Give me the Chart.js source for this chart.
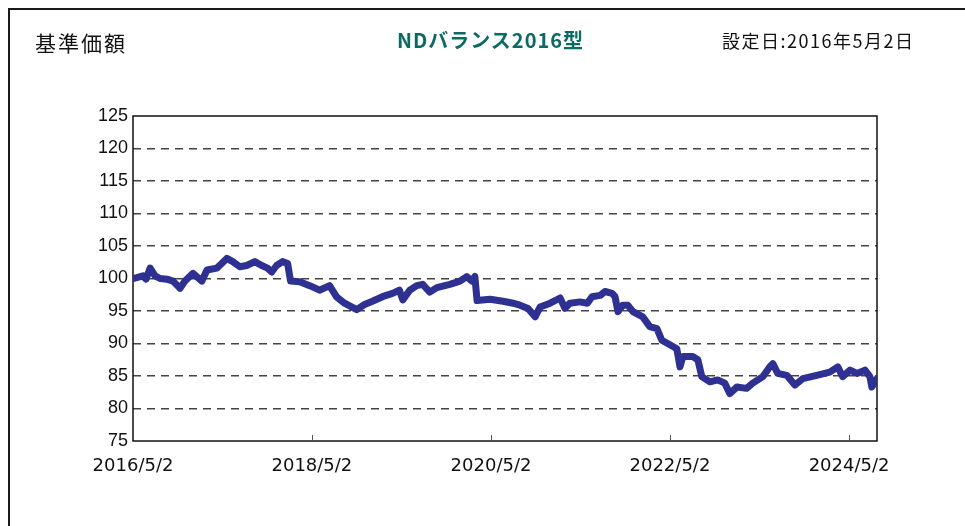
<!DOCTYPE html>
<html lang="ja">
<head>
<meta charset="utf-8">
<title>基準価額</title>
<script src="https://cdn.jsdelivr.net/npm/chart.js@4/dist/chart.umd.min.js"></script>
<style>
  html, body { margin: 0; padding: 0; background: #fff; }
  #wrap { position: relative; width: 965px; height: 526px; overflow: hidden; }
  #frame {
    position: absolute; left: 8px; top: 8px; right: -4px; bottom: -4px;
    border-left: 2px solid #1a1a1a; border-top: 2px solid #1a1a1a;
  }
  .hdr { position: absolute; white-space: nowrap; font-family: "Noto Sans CJK JP", sans-serif; color: #111; }
  #lbl { left: 35px; top: 27px; font-size: 21px; letter-spacing: 2px; }
  #ttl { left: 397px; top: 25px; font-size: 20px; font-weight: bold; color: #0b6b63; letter-spacing: 1px; }
  #set { left: 722px; top: 27px; font-size: 18px; letter-spacing: 1.5px; }
  canvas { position: absolute; left: 0; top: 0; }
</style>
</head>
<body>
<div id="wrap">
  <div id="frame"></div>
  <canvas id="chartNav" width="965" height="526"></canvas>
  <div class="hdr" id="lbl">基準価額</div>
  <div class="hdr" id="ttl">NDバランス2016型</div>
  <div class="hdr" id="set">設定日:2016年5月2日</div>
</div>
<script>
// 日付（基準日）
const datas = [
  '2016/5/2', '2016/5/25', '2016/6/12', '2016/6/24', '2016/7/11', '2016/7/31', '2016/8/20', '2016/9/18',
  '2016/10/12', '2016/11/10', '2016/11/30', '2017/1/2', '2017/2/7', '2017/2/28', '2017/4/9', '2017/4/29',
  '2017/5/20', '2017/6/13', '2017/7/12', '2017/8/9', '2017/9/11', '2017/10/9', '2017/11/2', '2017/11/19',
  '2017/12/9', '2018/1/2', '2018/1/23', '2018/2/4', '2018/3/13', '2018/4/23', '2018/6/2', '2018/7/13',
  '2018/8/10', '2018/9/12', '2018/11/1', '2018/12/3', '2019/1/4', '2019/2/14', '2019/3/27', '2019/4/24',
  '2019/5/8', '2019/6/5', '2019/7/4', '2019/7/28', '2019/8/26', '2019/9/24', '2019/11/16', '2019/12/27',
  '2020/1/24', '2020/2/14', '2020/2/26', '2020/3/6', '2020/4/28', '2020/6/20', '2020/7/31', '2020/8/28',
  '2020/9/30', '2020/10/29', '2020/11/18', '2020/12/29', '2021/2/8', '2021/2/28', '2021/3/20', '2021/4/30',
  '2021/5/30', '2021/6/18', '2021/7/21', '2021/8/10', '2021/9/8', '2021/9/20', '2021/10/2', '2021/10/22',
  '2021/11/11', '2021/12/2', '2022/1/11', '2022/2/9', '2022/3/10', '2022/3/30', '2022/5/2', '2022/5/30',
  '2022/6/12', '2022/6/24', '2022/8/3', '2022/8/24', '2022/9/9', '2022/10/12', '2022/11/13', '2022/12/12',
  '2023/1/1', '2023/1/30', '2023/3/11', '2023/4/5', '2023/5/16', '2023/6/13', '2023/6/26', '2023/7/16',
  '2023/8/22', '2023/9/24', '2023/10/26', '2023/12/22', '2024/2/13', '2024/3/17', '2024/4/6', '2024/5/6',
  '2024/6/3', '2024/7/6', '2024/7/26', '2024/8/3', '2024/8/24'
];

// 基準価額（設定時=100）
const valores = [
  100.0, 100.2, 100.4, 99.9, 101.6, 100.4, 100.0, 99.9,
  99.6, 98.5, 99.6, 100.8, 99.6, 101.3, 101.6, 102.3,
  103.1, 102.6, 101.8, 102.0, 102.6, 102.0, 101.6, 101.0,
  102.0, 102.6, 102.3, 99.6, 99.5, 98.9, 98.2, 98.9,
  97.2, 96.2, 95.2, 96.0, 96.5, 97.2, 97.7, 98.2,
  96.7, 98.2, 98.9, 99.1, 97.9, 98.6, 99.1, 99.6,
  100.3, 99.6, 100.3, 96.6, 96.8, 96.5, 96.2, 95.9,
  95.4, 94.1, 95.6, 96.2, 97.0, 95.4, 96.2, 96.4,
  96.2, 97.2, 97.4, 98.0, 97.7, 97.2, 94.9, 95.9,
  95.9, 94.9, 94.1, 92.6, 92.3, 90.5, 89.8, 89.2,
  86.4, 88.0, 88.0, 87.5, 84.9, 84.1, 84.4, 83.9,
  82.3, 83.3, 83.1, 83.9, 84.9, 86.4, 86.9, 85.4,
  85.1, 83.6, 84.6, 85.1, 85.6, 86.4, 84.9, 85.9,
  85.4, 85.9, 84.9, 83.3, 84.6
];

// 目盛り
const xTicks = ['2016/5/2', '2018/5/2', '2020/5/2', '2022/5/2', '2024/5/2'];
const yTicks = [75, 80, 85, 90, 95, 100, 105, 110, 115, 120, 125];

const inicio = Date.UTC(2016, 4, 2);
function dia(s) {
  const p = s.split('/').map(Number);
  return (Date.UTC(p[0], p[1] - 1, p[2]) - inicio) / 86400000;
}

const pontos = datas.map((d, i) => ({ x: dia(d), y: valores[i] }));
const xTickDias = xTicks.map(dia);

// 枠線と内向きの目盛り線
const molduraPlugin = {
  id: 'moldura',
  beforeDatasetsDraw(chart) {
    const { ctx, chartArea: a, scales } = chart;
    ctx.save();
    ctx.strokeStyle = '#111';
    ctx.lineWidth = 1.5;
    ctx.setLineDash([]);
    ctx.strokeRect(a.left, a.top, a.right - a.left, a.bottom - a.top);
    ctx.lineWidth = 1;
    ctx.strokeStyle = '#555';
    xTickDias.slice(1).forEach(v => {
      const x = Math.round(scales.x.getPixelForValue(v)) + 0.5;
      ctx.beginPath();
      ctx.moveTo(x, a.bottom);
      ctx.lineTo(x, a.bottom - 6);
      ctx.stroke();
    });
    ctx.restore();
  }
};

new Chart(document.getElementById('chartNav'), {
  type: 'line',
  data: {
    datasets: [{
      data: pontos,
      borderColor: '#2e3192',
      borderWidth: 7,
      pointRadius: 0,
      tension: 0,
      borderJoinStyle: 'round',
      borderCapStyle: 'round'
    }]
  },
  options: {
    responsive: false,
    animation: false,
    layout: { padding: { left: 0, right: 88, top: 116, bottom: 0 } },
    plugins: { legend: { display: false }, tooltip: { enabled: false } },
    scales: {
      x: {
        type: 'linear',
        min: 0,
        max: pontos[pontos.length - 1].x,
        afterBuildTicks: axis => { axis.ticks = xTickDias.map(v => ({ value: v })); },
        afterFit: scale => { scale.height = 85; },
        grid: { display: false, drawTicks: false },
        border: { display: false },
        ticks: {
          autoSkip: false,
          maxRotation: 0,
          padding: 15,
          color: '#111',
          font: { family: 'DejaVu Sans', size: 18 },
          callback: (v, i) => xTicks[i]
        }
      },
      y: {
        min: 75,
        max: 125,
        afterBuildTicks: axis => { axis.ticks = yTicks.map(v => ({ value: v })); },
        afterFit: scale => { scale.width = 133; },
        grid: {
          drawTicks: false,
          color: ctx => (ctx.tick.value === 75 || ctx.tick.value === 125) ? 'rgba(0,0,0,0)' : '#444',
          lineWidth: 1.4
        },
        border: { display: false, dash: [8, 6] },
        ticks: {
          padding: 5,
          color: '#111',
          font: { family: 'Liberation Sans', size: 18 }
        }
      }
    }
  },
  plugins: [molduraPlugin]
});
</script>
</body>
</html>
